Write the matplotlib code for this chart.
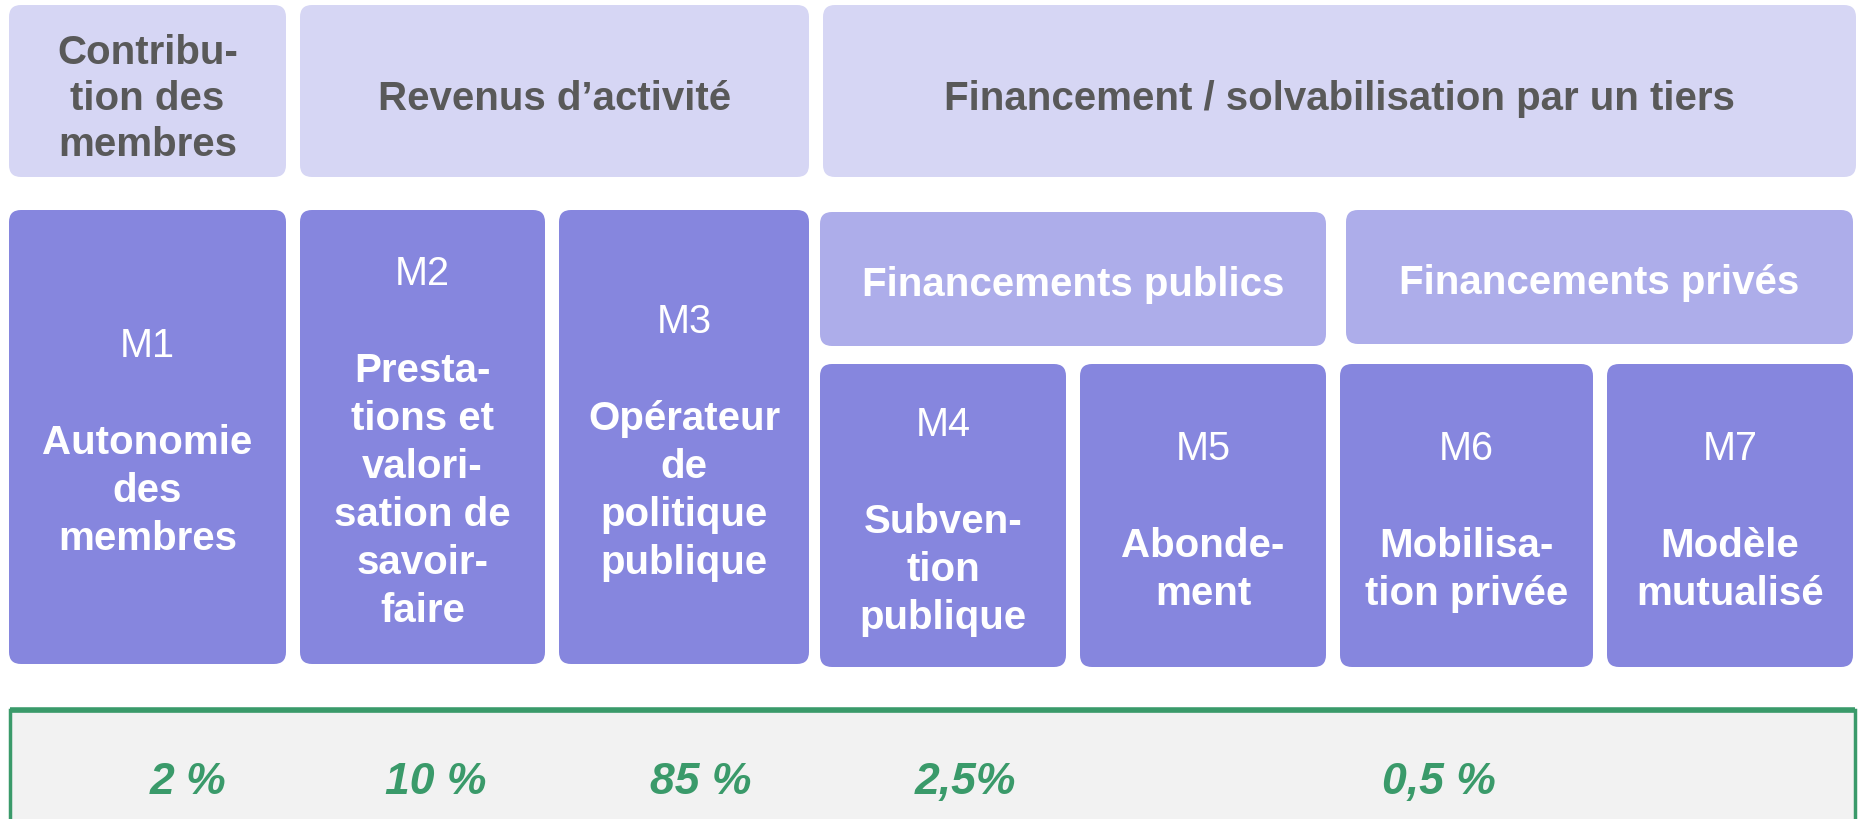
import matplotlib
matplotlib.use('Agg')
import matplotlib.pyplot as plt
from matplotlib.patches import FancyBboxPatch

# texts of the diagram
header_labels = ["Contribu-\ntion des\nmembres", "Revenus d’activité",
                 "Financement / solvabilisation par un tiers"]
group_labels = ["Financements publics", "Financements privés"]
model_codes = ["M1", "M2", "M3", "M4", "M5", "M6", "M7"]
model_names = ["Autonomie\ndes\nmembres",
               "Presta-\ntions et\nvalori-\nsation de\nsavoir-\nfaire",
               "Opérateur\nde\npolitique\npublique",
               "Subven-\ntion\npublique",
               "Abonde-\nment",
               "Mobilisa-\ntion privée",
               "Modèle\nmutualisé"]
shares = ["2 %", "10 %", "85 %", "2,5%", "0,5 %"]

# layout in pixels (x0, x1, y0, y1), y going down
header_boxes = [(9, 286, 6, 178), (300, 809, 6, 178), (823, 1856, 6, 178)]
group_boxes = [(820, 1326, 213, 347), (1346, 1853, 211, 345)]
model_boxes = [(9, 286, 211, 665), (300, 545, 211, 665), (559, 809, 211, 665),
               (820, 1066, 365, 668), (1080, 1326, 365, 668),
               (1340, 1593, 365, 668), (1607, 1853, 365, 668)]
share_x = [188, 436, 701, 965, 1439]

light = '#d6d6f4'
mid = '#adadea'
dark = '#8686de'
grey_txt = '#595959'
green = '#3a9a6a'

plt.rcParams['font.family'] = ['Liberation Sans', 'DejaVu Sans']

fig = plt.figure(figsize=(18.63, 8.2), dpi=100)
ax = fig.add_axes([0, 0, 1, 1])
ax.set_xlim(0, 1863)
ax.set_ylim(820, 0)
ax.axis('off')


def box(x0, x1, y0, y1, color):
    ax.add_patch(FancyBboxPatch((x0 + 12, y0 + 12), x1 - x0 - 24, y1 - y0 - 24,
                                boxstyle='round,pad=12', fc=color, ec='none'))


def lines(cx, cy, txt, color, weight, size, ls=47):
    parts = txt.split('\n')
    top = cy - (len(parts) - 1) * ls / 2
    for i, p in enumerate(parts):
        ax.text(cx, top + i * ls, p, ha='center', va='center', color=color,
                fontsize=size, fontweight=weight)


for (x0, x1, y0, y1), lab in zip(header_boxes, header_labels):
    box(x0, x1, y0, y1, light)
    lines((x0 + x1) / 2, (y0 + y1) / 2 + 7, lab, grey_txt, 'bold', 29, 46)

for (x0, x1, y0, y1), lab in zip(group_boxes, group_labels):
    box(x0, x1, y0, y1, mid)
    lines((x0 + x1) / 2, (y0 + y1) / 2 + 5, lab, 'white', 'bold', 29)

gap, ls = 97, 48
for (x0, x1, y0, y1), code, name in zip(model_boxes, model_codes, model_names):
    box(x0, x1, y0, y1, dark)
    cx, cy = (x0 + x1) / 2, (y0 + y1) / 2 + 5
    n = len(name.split('\n'))
    span = gap + (n - 1) * ls
    code_y = cy - span / 2
    ax.text(cx, code_y, code, ha='center', va='center', color='white', fontsize=28.5)
    lines(cx, code_y + gap + (n - 1) * ls / 2, name, 'white', 'bold', 29, ls)

# bottom band with shares
ax.add_patch(plt.Rectangle((10, 711), 1845, 140, fc='#f2f2f2', ec=green, lw=2.5))
ax.plot([10, 1855], [711, 711], color=green, lw=4, solid_capstyle='butt')
for x, s in zip(share_x, shares):
    ax.text(x, 783, s, ha='center', va='center', color=green, fontsize=32,
            fontweight='bold', fontstyle='italic')

fig.savefig('out.png', dpi=100)
